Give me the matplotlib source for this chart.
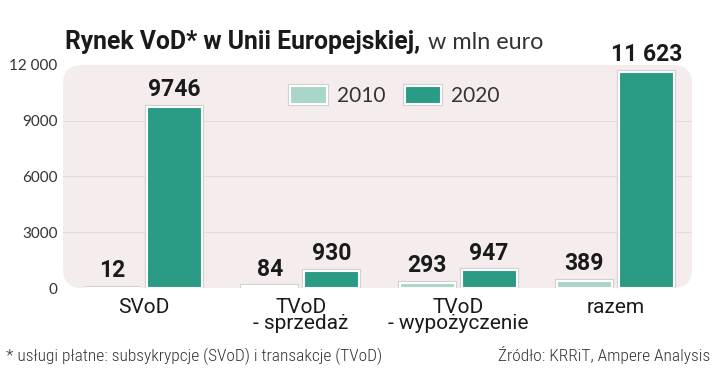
import numpy as np
import matplotlib
matplotlib.use("Agg")
import matplotlib.pyplot as plt
import matplotlib.patheffects as pe
from matplotlib import font_manager as fm
from matplotlib.patches import FancyBboxPatch

categories = ["SVoD", "TVoD\n- sprzedaż", "TVoD\n- wypożyczenie", "razem"]
values_2010 = [12, 84, 293, 389]
values_2020 = [9746, 930, 947, 11623]
labels_2010 = ["12", "84", "293", "389"]
labels_2020 = ["9746", "930", "947", "11 623"]
yticks = [0, 3000, 6000, 9000, 12000]
ytick_labels = ["0", "3000", "6000", "9000", "12 000"]


def pick(cands):
    have = {f.name for f in fm.fontManager.ttflist}
    for c in cands:
        if c in have:
            return c
    return "DejaVu Sans"


bold_font = pick(["Roboto", "DejaVu Sans"])
narrow = pick(["Roboto Condensed", "Archivo Narrow", "Asap Condensed", "DejaVu Sans"])
light = pick(["Lato", "DejaVu Sans"])

c2010 = "#a9d6c8"
c2020 = "#2a9c86"
panel = "#f5eded"
dark = "#1a1a1a"
grey = "#333333"

fig = plt.figure(figsize=(7.21, 3.72), dpi=100)
ax = fig.add_axes([0.0874, 0.2258, 0.8724, 0.5995])
ax.patch.set_visible(False)

# rounded pink panel behind the plot
bg = FancyBboxPatch((0, 0), 1, 1, boxstyle="round,pad=0,rounding_size=0.03",
                    mutation_aspect=2.8, transform=ax.transAxes,
                    facecolor=panel, edgecolor="none", zorder=0)
ax.add_patch(bg)

x = np.arange(len(categories))
w = 0.35
off = 0.197
shadow = [pe.Stroke(linewidth=3, foreground="#cfcfcf"), pe.Normal()]

b1 = ax.bar(x - off, values_2010, w, color=c2010, edgecolor="white",
            linewidth=1.5, label="2010", zorder=3)
b2 = ax.bar(x + off, values_2020, w, color=c2020, edgecolor="white",
            linewidth=1.5, label="2020", zorder=3)
for r in list(b1) + list(b2):
    r.set_path_effects(shadow)

for bars, labs in ((b1, labels_2010), (b2, labels_2020)):
    for r, t in zip(bars, labs):
        ax.annotate(t, (r.get_x() + r.get_width() / 2, r.get_height()),
                    xytext=(0, 4), textcoords="offset points",
                    ha="center", va="bottom", fontsize=16.5,
                    fontweight="bold", family=bold_font, color=dark,
                    clip_on=False, zorder=5)

ax.set_xlim(-0.512, 3.487)
ax.set_ylim(0, 12000)
ax.set_yticks(yticks)
ax.set_yticklabels(ytick_labels, family=light, fontsize=11, color=grey)
ax.set_xticks(x)
ax.set_xticklabels(categories, family=bold_font, fontsize=15, color=dark,
                   linespacing=0.85)
ax.tick_params(length=0)
ax.tick_params(axis="y", pad=4)
ax.tick_params(axis="x", pad=7)
for s in ax.spines.values():
    s.set_visible(False)
for v in yticks[1:-1]:
    ax.axhline(v, color="#e6dbdb", linewidth=0.8, zorder=1)

leg = ax.legend(loc="center", bbox_to_anchor=(0.528, 0.861), ncol=2,
                frameon=False, handlelength=1.75, handleheight=1.0,
                handletextpad=0.5, columnspacing=0.9,
                prop={"family": light, "size": 15})
for p in leg.get_patches():
    p.set_path_effects(shadow)
for t in leg.get_texts():
    t.set_color(grey)

fig.text(0.09, 0.868, "Rynek VoD* w Unii Europejskiej,", family=bold_font,
         fontweight="bold", fontsize=17.8, color=dark, ha="left",
         va="baseline")
fig.text(0.5936, 0.868, "w mln euro", family=light, fontsize=16.8,
         color=grey, ha="left", va="baseline")

fig.text(0.008, 0.029, "* usługi płatne: subsykrypcje (SVoD) i transakcje (TVoD)",
         family=narrow, fontweight="light", fontsize=12.5, color=grey,
         ha="left", va="baseline")
fig.text(0.985, 0.029, "Źródło: KRRiT, Ampere Analysis",
         family=narrow, fontweight="light", fontsize=12.5, color=grey,
         ha="right", va="baseline")

fig.savefig("out.png", dpi=100)
